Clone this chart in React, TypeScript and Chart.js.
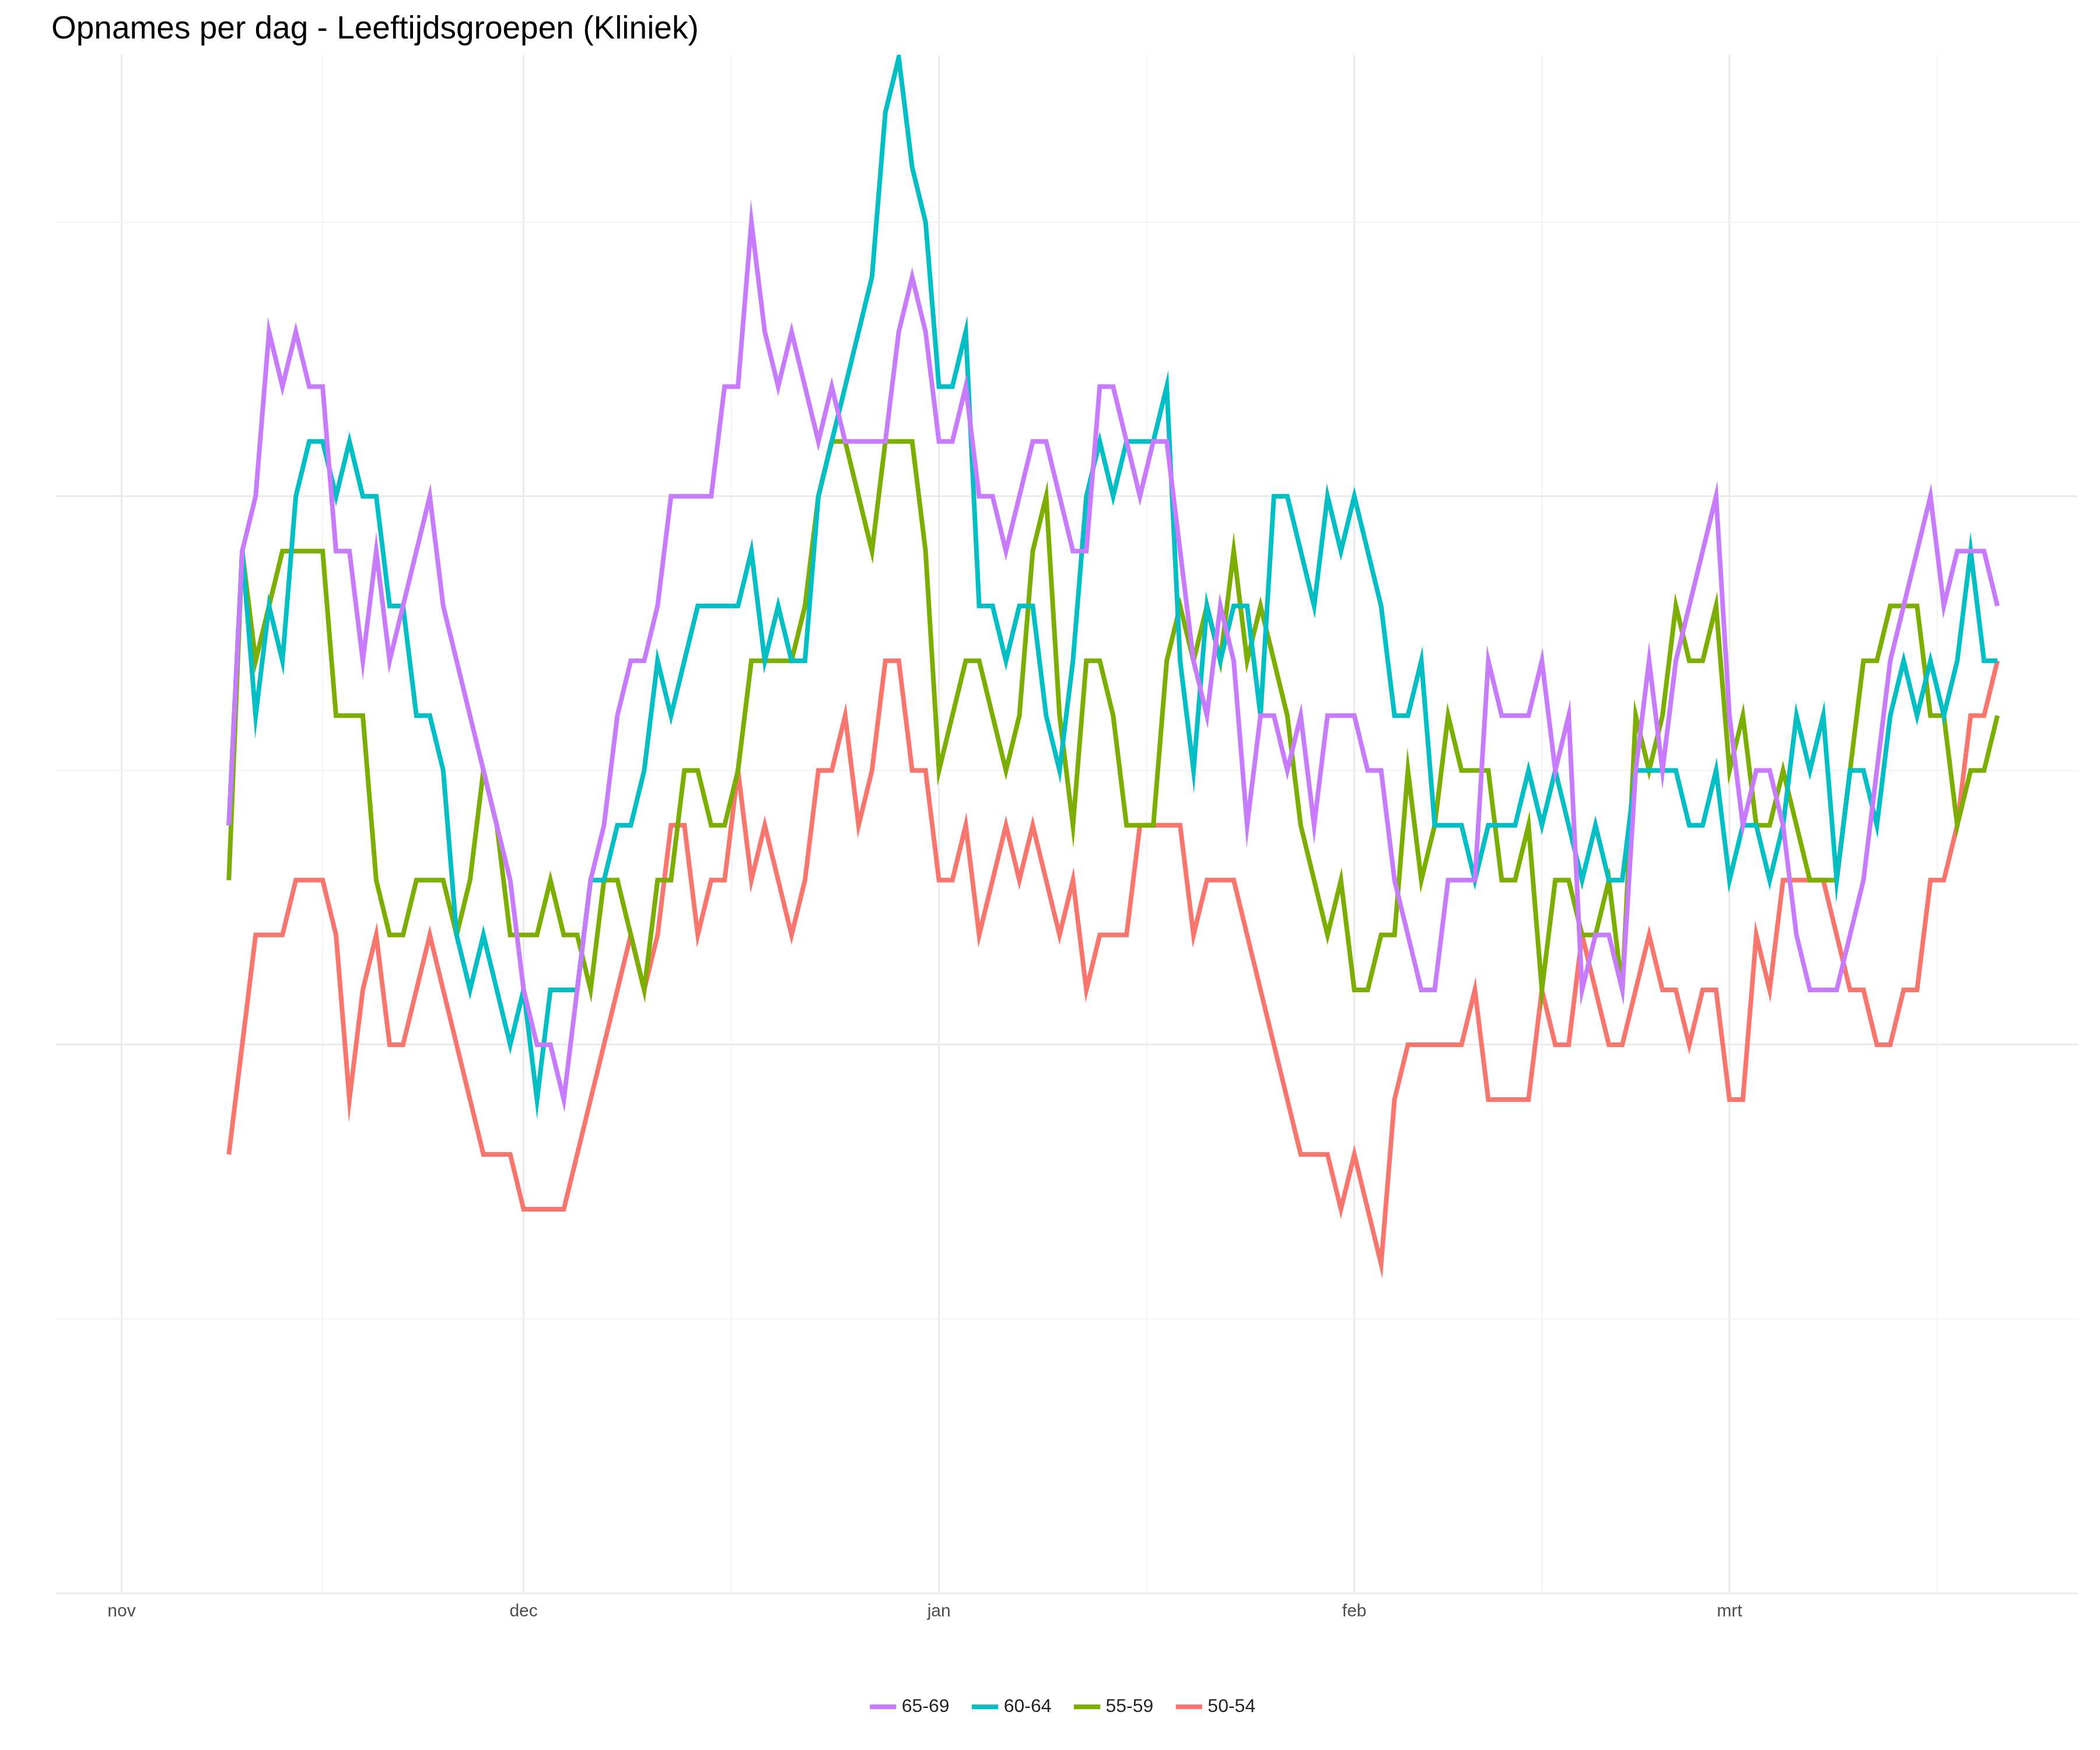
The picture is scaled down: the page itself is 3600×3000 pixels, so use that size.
import React, { useRef, useEffect } from "react";
import Chart from "chart.js/auto";

// day 0 = 1 nov; series run from 9 nov to 21 mrt
const startDay = 8;
const monthTicks = [0, 30, 61, 92, 120];
const monthLabels = ["nov", "dec", "jan", "feb", "mrt"];
const minorTicks = [15, 45.5, 76.5, 106, 135.5];
const seriesNames = ["65-69", "60-64", "55-59", "50-54"];
const seriesColors = ["#C77CFF", "#00BFC4", "#7CAE00", "#F8766D"];

const age6569 = [14, 19, 20, 23, 22, 23, 22, 22, 19, 19, 17, 19, 17, 18, 19, 20, 18, 17, 16, 15, 14, 13, 11, 10, 10, 9, 11, 13, 14, 16, 17, 17, 18, 20, 20, 20, 20, 22, 22, 25, 23, 22, 23, 22, 21, 22, 21, 21, 21, 21, 23, 24, 23, 21, 21, 22, 20, 20, 19, 20, 21, 21, 20, 19, 19, 22, 22, 21, 20, 21, 21, 19, 17, 16, 18, 17, 14, 16, 16, 15, 16, 14, 16, 16, 16, 15, 15, 13, 12, 11, 11, 13, 13, 13, 17, 16, 16, 16, 17, 15, 16, 11, 12, 12, 11, 15, 17, 15, 17, 18, 19, 20, 16, 14, 15, 15, 14, 12, 11, 11, 11, 12, 13, 15, 17, 18, 19, 20, 18, 19, 19, 19, 18];
const age6064 = [14, 19, 16, 18, 17, 20, 21, 21, 20, 21, 20, 20, 18, 18, 16, 16, 15, 12, 11, 12, 11, 10, 11, 9, 11, 11, 11, 13, 13, 14, 14, 15, 17, 16, 17, 18, 18, 18, 18, 19, 17, 18, 17, 17, 20, 21, 22, 23, 24, 27, 28, 26, 25, 22, 22, 23, 18, 18, 17, 18, 18, 16, 15, 17, 20, 21, 20, 21, 21, 21, 22, 17, 15, 18, 17, 18, 18, 16, 20, 20, 19, 18, 20, 19, 20, 19, 18, 16, 16, 17, 14, 14, 14, 13, 14, 14, 14, 15, 14, 15, 14, 13, 14, 13, 13, 15, 15, 15, 15, 14, 14, 15, 13, 14, 14, 13, 14, 16, 15, 16, 13, 15, 15, 14, 16, 17, 16, 17, 16, 17, 19, 17, 17];
const age5559 = [13, 19, 17, 18, 19, 19, 19, 19, 16, 16, 16, 13, 12, 12, 13, 13, 13, 12, 13, 15, 14, 12, 12, 12, 13, 12, 12, 11, 13, 13, 12, 11, 13, 13, 15, 15, 14, 14, 15, 17, 17, 17, 17, 18, 20, 21, 21, 20, 19, 21, 21, 21, 19, 15, 16, 17, 17, 16, 15, 16, 19, 20, 16, 14, 17, 17, 16, 14, 14, 14, 17, 18, 17, 18, 17, 19, 17, 18, 17, 16, 14, 13, 12, 13, 11, 11, 12, 12, 15, 13, 14, 16, 15, 15, 15, 13, 13, 14, 11, 13, 13, 12, 12, 13, 11, 16, 15, 16, 18, 17, 17, 18, 15, 16, 14, 14, 15, 14, 13, 13, 13, 15, 17, 17, 18, 18, 18, 16, 16, 14, 15, 15, 16];
const age5054 = [8, 10, 12, 12, 12, 13, 13, 13, 12, 9, 11, 12, 10, 10, 11, 12, 11, 10, 9, 8, 8, 8, 7, 7, 7, 7, 8, 9, 10, 11, 12, 11, 12, 14, 14, 12, 13, 13, 15, 13, 14, 13, 12, 13, 15, 15, 16, 14, 15, 17, 17, 15, 15, 13, 13, 14, 12, 13, 14, 13, 14, 13, 12, 13, 11, 12, 12, 12, 14, 14, 14, 14, 12, 13, 13, 13, 12, 11, 10, 9, 8, 8, 8, 7, 8, 7, 6, 9, 10, 10, 10, 10, 10, 11, 9, 9, 9, 9, 11, 10, 10, 12, 11, 10, 10, 11, 12, 11, 11, 10, 11, 11, 9, 9, 12, 11, 13, 13, 13, 13, 12, 11, 11, 10, 10, 11, 11, 13, 13, 14, 16, 16, 17];

const allSeries = [age6569, age6064, age5559, age5054];

export default function App() {
  const ref = useRef<HTMLCanvasElement | null>(null);

  useEffect(() => {
    const chart = new Chart(ref.current!.getContext("2d")!, {
      type: "line",
      data: {
        datasets: allSeries.map((vals, s) => ({
          label: seriesNames[s],
          data: vals.map((v, i) => ({ x: startDay + i, y: v })),
          borderColor: seriesColors[s],
          backgroundColor: seriesColors[s],
          borderWidth: 8,
          pointRadius: 0,
          tension: 0,
        })),
      },
      options: {
        animation: false,
        responsive: true,
        maintainAspectRatio: false,
        devicePixelRatio: 1,
        layout: { padding: { left: 80, right: 30, top: 10, bottom: 40 } },
        plugins: {
          title: {
            display: true,
            text: "Opnames per dag - Leeftijdsgroepen (Kliniek)",
            align: "start",
            color: "#000",
            font: { family: "Liberation Sans", size: 55, weight: "normal" },
            padding: { top: 0, bottom: 10 },
          },
          legend: {
            position: "bottom",
            labels: {
              usePointStyle: true,
              pointStyle: "line",
              boxWidth: 55,
              color: "#222",
              padding: 45,
              font: { family: "Liberation Sans", size: 32 },
            },
          },
          tooltip: { enabled: false },
        },
        scales: {
          x: {
            type: "linear",
            min: -4.9,
            max: 146,
            afterFit: (a: any) => {
              a.height += 70;
            },
            afterBuildTicks: (axis: any) => {
              axis.ticks = [...monthTicks, ...minorTicks]
                .sort((a, b) => a - b)
                .map((v) => ({ value: v }));
            },
            ticks: {
              autoSkip: false,
              maxRotation: 0,
              color: "#4d4d4d",
              padding: 14,
              font: { family: "Liberation Sans", size: 30 },
              callback: (v: any) => {
                const k = monthTicks.indexOf(Number(v));
                return k >= 0 ? monthLabels[k] : "";
              },
            },
            grid: {
              color: (c: any) =>
                monthTicks.includes(c.tick?.value) ? "#ebebeb" : "#f3f3f3",
              lineWidth: (c: any) => (monthTicks.includes(c.tick?.value) ? 3 : 2),
              drawTicks: false,
            },
            border: { display: false },
          },
          y: {
            min: 0,
            max: 28.05,
            afterFit: (a: any) => {
              a.width = 8;
            },
            afterBuildTicks: (axis: any) => {
              axis.ticks = [0, 5, 10, 15, 20, 25].map((v) => ({ value: v }));
            },
            ticks: {
              color: "#4d4d4d",
              padding: 14,
              font: { family: "Liberation Sans", size: 30 },
              callback: (v: any) => (Number(v) % 10 === 0 ? String(v) : ""),
            },
            grid: {
              color: (c: any) => (c.tick?.value % 10 === 0 ? "#ebebeb" : "#f3f3f3"),
              lineWidth: (c: any) => (c.tick?.value % 10 === 0 ? 3 : 2),
              drawTicks: false,
            },
            border: { display: false },
          },
        },
      },
    });
    return () => chart.destroy();
  }, []);

  return (
    <div style={{ width: "3584px", height: "2984px", background: "#fff" }}>
      <canvas ref={ref}></canvas>
    </div>
  );
}
